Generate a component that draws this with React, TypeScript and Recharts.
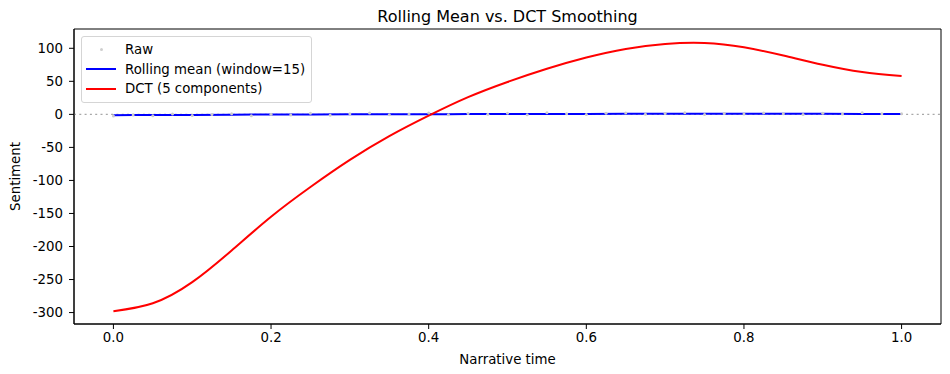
import { ComposedChart, Line, Scatter, XAxis, YAxis, ReferenceLine, ReferenceArea, Legend, Label } from 'recharts';

// Narrative time positions for the smoothed curves
const timeSteps = [0, 0.05, 0.1, 0.15, 0.2, 0.25, 0.3, 0.35, 0.4, 0.45, 0.5, 0.55, 0.6, 0.65, 0.7, 0.75, 0.8, 0.85, 0.9, 0.95, 1.0];

// DCT reconstruction (5 components)
const dctValues = [-298, -286, -254, -206, -155, -110, -69, -33, -2, 26, 49, 69, 86, 99, 106.5, 108, 101.5, 89, 75, 64, 58];

// Rolling mean (window=15), essentially flat around zero
const rollingValues = [-1.2, -1.0, -0.8, -0.5, -0.3, -0.1, 0.0, 0.2, 0.3, 0.4, 0.5, 0.6, 0.7, 0.8, 0.8, 0.9, 0.9, 0.8, 0.8, 0.7, 0.6];

// Raw sentence sentiment (tiny values, hidden under the blue line)
const rawTimes = [0, 0.025, 0.05, 0.075, 0.1, 0.125, 0.15, 0.175, 0.2, 0.225, 0.25, 0.275, 0.3, 0.325, 0.35, 0.375, 0.4, 0.425, 0.45, 0.475, 0.5, 0.525, 0.55, 0.575, 0.6, 0.625, 0.65, 0.675, 0.7, 0.725, 0.75, 0.775, 0.8, 0.825, 0.85, 0.875, 0.9, 0.925, 0.95, 0.975, 1.0];
const rawValues = [-2.5, -0.8, -2.1, 0.4, -1.6, -0.3, 1.1, -2.0, 0.2, -0.9, 1.5, -1.2, 0.8, 1.9, -0.4, 0.6, 2.2, -0.7, 1.3, 0.1, 1.8, -0.5, 2.4, 0.9, -0.2, 1.6, 2.1, 0.3, 1.2, 2.6, -0.1, 1.4, 0.7, 2.0, 1.1, -0.3, 1.7, 0.5, 2.3, 0.8, 1.0];

const xTicks = [0, 0.2, 0.4, 0.6, 0.8, 1.0];
const yTicks = [-300, -250, -200, -150, -100, -50, 0, 50, 100];
const xDomain = [-0.05, 1.05];
const yDomain = [-317.3, 129.2];

const smoothData = timeSteps.map((t, i) => ({ t, dct: dctValues[i], rolling: rollingValues[i] }));
const rawData = rawTimes.map((t, i) => ({ t, raw: rawValues[i] }));

const FONT = 'DejaVu Sans, sans-serif';

const LegendBox = () => (
    <div style={{
        background: 'rgba(255,255,255,0.8)',
        border: '1px solid #d5d5d5',
        borderRadius: '3px',
        padding: '3px 6px 3px 4px',
        fontFamily: FONT,
        fontSize: '13.33px',
        color: '#000',
        lineHeight: '19.5px',
    }}>
        <div style={{ display: 'flex', alignItems: 'center' }}>
            <span style={{ width: '30px', display: 'inline-flex', justifyContent: 'center', marginRight: '9px' }}>
                <span style={{ width: '3px', height: '3px', borderRadius: '50%', background: '#cfcfcf' }} />
            </span>
            Raw
        </div>
        <div style={{ display: 'flex', alignItems: 'center' }}>
            <span style={{ width: '30px', height: '2px', background: '#0000ff', marginRight: '9px' }} />
            Rolling mean (window=15)
        </div>
        <div style={{ display: 'flex', alignItems: 'center' }}>
            <span style={{ width: '30px', height: '2px', background: '#ff0000', marginRight: '9px' }} />
            DCT (5 components)
        </div>
    </div>
);

export default function App() {
    return (
        <div style={{ position: 'absolute', left: 0, top: 0, width: 950, height: 374, background: '#fff' }}>
            <div style={{
                position: 'absolute', top: 7, left: 74, width: 867, textAlign: 'center',
                fontFamily: FONT, fontSize: '16px', color: '#000'
            }}>
                Rolling Mean vs. DCT Smoothing
            </div>
            <ComposedChart width={950} height={374} margin={{ top: 29, right: 9, left: 0, bottom: 0 }}>
                <XAxis
                    xAxisId="main"
                    type="number"
                    dataKey="t"
                    domain={xDomain}
                    ticks={xTicks}
                    tickFormatter={(v: number) => v.toFixed(1)}
                    height={50}
                    tickSize={5}
                    tickMargin={4}
                    stroke="#000"
                    tick={{ fill: '#000', fontSize: 13.33, fontFamily: FONT }}
                    allowDataOverflow
                >
                    <Label value="Narrative time" position="insideBottom" offset={10} style={{ fill: '#000', fontSize: 13.33, fontFamily: FONT }} />
                </XAxis>
                <YAxis
                    yAxisId="main"
                    type="number"
                    domain={yDomain}
                    ticks={yTicks}
                    width={74}
                    tickSize={5}
                    tickMargin={6}
                    stroke="#000"
                    tick={{ fill: '#000', fontSize: 13.33, fontFamily: FONT }}
                    allowDataOverflow
                >
                    <Label value="Sentiment" angle={-90} position="insideLeft" offset={15} style={{ fill: '#000', fontSize: 13.33, fontFamily: FONT, textAnchor: 'middle' }} />
                </YAxis>
                <ReferenceArea
                    xAxisId="main"
                    yAxisId="main"
                    x1={xDomain[0]}
                    x2={xDomain[1]}
                    y1={yDomain[0]}
                    y2={yDomain[1]}
                    fill="none"
                    fillOpacity={0}
                    stroke="#000"
                    strokeWidth={1}
                    ifOverflow="visible"
                />
                <ReferenceLine xAxisId="main" yAxisId="main" y={0} stroke="#a8a8a8" strokeDasharray="2 3.3" strokeWidth={1.3} />
                <Scatter
                    xAxisId="main"
                    yAxisId="main"
                    data={rawData}
                    dataKey="raw"
                    fill="#cccccc"
                    shape={(p: any) => <circle cx={p.cx} cy={p.cy} r={1.5} fill="#cccccc" />}
                    isAnimationActive={false}
                />
                <Line
                    xAxisId="main"
                    yAxisId="main"
                    data={smoothData}
                    dataKey="rolling"
                    type="monotone"
                    stroke="#0000ff"
                    strokeWidth={2}
                    dot={false}
                    isAnimationActive={false}
                />
                <Line
                    xAxisId="main"
                    yAxisId="main"
                    data={smoothData}
                    dataKey="dct"
                    type="natural"
                    stroke="#ff0000"
                    strokeWidth={2}
                    dot={false}
                    isAnimationActive={false}
                />
                <Legend
                    layout="vertical"
                    align="center"
                    verticalAlign="middle"
                    content={<LegendBox />}
                    wrapperStyle={{ top: 36, left: 81, width: 'auto', height: 'auto' }}
                />
            </ComposedChart>
        </div>
    );
}
